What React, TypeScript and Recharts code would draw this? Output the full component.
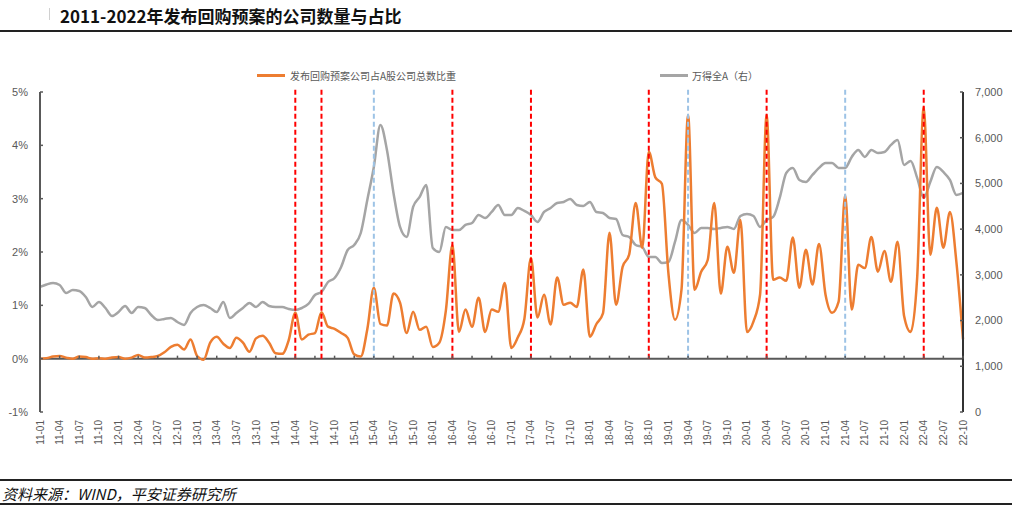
import React from 'react';
import { LineChart, Line, XAxis, YAxis, ReferenceLine } from 'recharts';

const years = ['11', '12', '13', '14', '15', '16', '17', '18', '19', '20', '21', '22'];
const monthNames = ['01', '02', '03', '04', '05', '06', '07', '08', '09', '10', '11', '12'];
const months: string[] = [];
years.forEach(y => monthNames.forEach(m => months.push(`${y}-${m}`)));
const categories = months.slice(0, 142);

// 发布回购预案公司占A股公司总数比重 (%)
const buybackRatio = [
  0.00, 0.01, 0.04, 0.05, 0.02, 0.00, 0.04, 0.03, 0.00, 0.01, 0.00, 0.02,
  0.03, 0.00, 0.02, 0.07, 0.02, 0.03, 0.05, 0.12, 0.22, 0.26, 0.17, 0.36,
  0.05, -0.02, 0.30, 0.41, 0.28, 0.20, 0.39, 0.30, 0.13, 0.38, 0.43, 0.30,
  0.10, 0.09, 0.35, 0.86, 0.36, 0.45, 0.48, 0.87, 0.60, 0.56, 0.48, 0.39,
  0.08, 0.04, 0.55, 1.33, 0.65, 0.62, 1.22, 1.05, 0.48, 0.88, 0.54, 0.60,
  0.22, 0.30, 0.90, 2.13, 0.50, 0.92, 0.60, 1.14, 0.50, 0.92, 0.88, 1.42,
  0.20, 0.40, 0.75, 1.89, 0.77, 1.20, 0.64, 1.52, 1.01, 1.05, 0.97, 1.67,
  0.41, 0.65, 0.85, 2.36, 1.01, 1.72, 1.95, 2.92, 2.08, 3.88, 3.40, 3.28,
  1.60, 0.73, 1.30, 4.57, 1.29, 1.63, 1.85, 2.92, 1.22, 2.10, 1.61, 2.60,
  0.50, 0.70, 1.20, 4.57, 1.48, 1.52, 1.46, 2.27, 1.33, 2.04, 1.39, 2.15,
  1.20, 0.86, 1.07, 3.07, 0.92, 1.76, 1.70, 2.28, 1.63, 2.02, 1.44, 2.19,
  0.80, 0.50, 1.52, 4.72, 1.95, 2.83, 2.08, 2.75, 1.80, 0.36,
];

// 万得全A（右）
const windA = [
  2735, 2790, 2823, 2779, 2604, 2670, 2648, 2516, 2297, 2407, 2275, 2100,
  2188, 2319, 2166, 2297, 2275, 2122, 2013, 2035, 2057, 1969, 1904, 2166,
  2297, 2341, 2275, 2188, 2407, 2057, 2166, 2275, 2385, 2297, 2407, 2319,
  2297, 2297, 2254, 2232, 2275, 2363, 2560, 2626, 2844, 2932, 3173, 3545,
  3654, 3916, 4638, 5361, 6280, 5733, 4792, 4048, 3829, 4485, 4704, 4967,
  3588, 3501, 4048, 3982, 3982, 4092, 4135, 4310, 4245, 4376, 4529, 4310,
  4310, 4463, 4398, 4310, 4157, 4376, 4463, 4573, 4595, 4660, 4529, 4507,
  4595, 4376, 4354, 4245, 4223, 3873, 3829, 3654, 3610, 3391, 3391, 3260,
  3282, 3720, 4201, 4092, 3916, 4026, 4026, 4004, 4026, 4048, 4004, 4288,
  4332, 4288, 4048, 4201, 4267, 4682, 5229, 5339, 5076, 5032, 5186, 5339,
  5448, 5448, 5339, 5339, 5579, 5733, 5579, 5733, 5667, 5689, 5842, 5951,
  5404, 5492, 5120, 4682, 5032, 5361, 5251, 5076, 4748, 4792,
];

const leftTicks = [-1, 0, 1, 2, 3, 4, 5];
const rightTicks = [0, 1000, 2000, 3000, 4000, 5000, 6000, 7000];
const redMarks = ['14-04', '14-08', '16-04', '17-04', '18-10', '20-04', '22-04'];
const blueMarks = ['15-04', '19-04', '21-04'];

const data = categories.map((month, i) => ({
  month,
  ratio: buybackRatio[i],
  windA: windA[i],
}));

const PLOT_TOP = 92;
const PLOT_BOTTOM = 412;
const ZERO_Y = PLOT_BOTTOM - (PLOT_BOTTOM - PLOT_TOP) / 6;
const labelColor = '#595959';
const axisColor = '#595959';
const font = '"Liberation Sans", Arial, sans-serif';

const MonthTick = (props: any) => {
  const { x, y, payload } = props;
  return (
    <g>
      <line x1={x} x2={x} y1={ZERO_Y - 3} y2={ZERO_Y} stroke={axisColor} strokeWidth={1.5} />
      <text
        transform={`translate(${x},${y}) rotate(-90)`}
        textAnchor="end"
        dy="0.35em"
        fontSize={10}
        fill={labelColor}
        fontFamily={font}
      >
        {payload.value}
      </text>
    </g>
  );
};

const LeftTick = (props: any) => {
  const { x, y, payload } = props;
  return (
    <g>
      <line x1={x + 12} x2={x + 15} y1={y} y2={y} stroke={axisColor} strokeWidth={1.5} />
      <text x={x} y={y} dy="0.35em" textAnchor="end" fontSize={11} fill={labelColor} fontFamily={font}>
        {payload.value}%
      </text>
    </g>
  );
};

const RightTick = (props: any) => {
  const { x, y, payload } = props;
  return (
    <g>
      <line x1={x - 15} x2={x - 12} y1={y} y2={y} stroke={axisColor} strokeWidth={1.5} />
      <text x={x} y={y} dy="0.35em" textAnchor="start" fontSize={11} fill={labelColor} fontFamily={font}>
        {Number(payload.value).toLocaleString('en-US')}
      </text>
    </g>
  );
};

const cjk = '"Noto Sans CJK SC", "Liberation Sans", sans-serif';

export default function App() {
  return (
    <div style={{ position: 'absolute', left: 0, top: 0, width: 1012, height: 506, background: '#fff', overflow: 'hidden' }}>
      <div style={{ position: 'absolute', left: 49, top: 8, width: 1, height: 12, background: '#d0d0d0' }} />
      <div style={{ position: 'absolute', left: 60, top: 3, fontFamily: cjk, fontWeight: 700, fontSize: 17, color: '#111', whiteSpace: 'nowrap' }}>
        2011-2022年发布回购预案的公司数量与占比
      </div>
      <div style={{ position: 'absolute', left: 0, top: 30, width: 1012, height: 2, background: '#222' }} />

      <div style={{ position: 'absolute', left: 257, top: 68, display: 'flex', alignItems: 'center', fontFamily: cjk, fontSize: 10, color: labelColor, whiteSpace: 'nowrap' }}>
        <span style={{ display: 'inline-block', width: 28, height: 2.5, background: '#ED7D31', marginRight: 5 }} />
        发布回购预案公司占A股公司总数比重
      </div>
      <div style={{ position: 'absolute', left: 660, top: 68, display: 'flex', alignItems: 'center', fontFamily: cjk, fontSize: 10, color: labelColor, whiteSpace: 'nowrap' }}>
        <span style={{ display: 'inline-block', width: 28, height: 2.5, background: '#A5A5A5', marginRight: 4 }} />
        万得全A（右）
      </div>

      <div style={{ position: 'absolute', left: 0, top: 0 }}>
        <LineChart width={1012} height={480} data={data} margin={{ top: PLOT_TOP, right: 0, bottom: 18, left: 0 }}>
          <XAxis
            dataKey="month"
            interval={2}
            height={50}
            tickSize={0}
            tickMargin={8}
            tickLine={false}
            axisLine={false}
            tick={<MonthTick />}
          />
          <YAxis
            yAxisId="left"
            width={40}
            domain={[-1, 5]}
            ticks={leftTicks}
            tickSize={0}
            tickMargin={12}
            tickLine={false}
            axisLine={{ stroke: axisColor, strokeWidth: 2 }}
            tick={<LeftTick />}
          />
          <YAxis
            yAxisId="right"
            orientation="right"
            width={49}
            domain={[0, 7000]}
            ticks={rightTicks}
            tickSize={0}
            tickMargin={12}
            tickLine={false}
            axisLine={{ stroke: '#333', strokeWidth: 2 }}
            tick={<RightTick />}
          />
          <ReferenceLine yAxisId="left" y={0} stroke={axisColor} strokeWidth={2} />
          <Line
            yAxisId="right"
            type="monotone"
            dataKey="windA"
            stroke="#A5A5A5"
            strokeWidth={2.5}
            dot={false}
            isAnimationActive={false}
          />
          <Line
            yAxisId="left"
            type="monotone"
            dataKey="ratio"
            stroke="#ED7D31"
            strokeWidth={2.5}
            dot={false}
            isAnimationActive={false}
          />
          {redMarks.map(m => (
            <ReferenceLine
              key={m}
              yAxisId="left"
              segment={[{ x: m, y: 0 }, { x: m, y: 5.07 }]}
              stroke="#FF0000"
              strokeWidth={2}
              strokeDasharray="5 3"
              ifOverflow="visible"
            />
          ))}
          {blueMarks.map(m => (
            <ReferenceLine
              key={m}
              yAxisId="left"
              segment={[{ x: m, y: 0 }, { x: m, y: 5.07 }]}
              stroke="#9DC3E6"
              strokeWidth={2}
              strokeDasharray="5 3"
              ifOverflow="visible"
            />
          ))}
        </LineChart>
      </div>

      <div style={{ position: 'absolute', left: 0, top: 479, width: 1012, height: 1.5, background: '#222' }} />
      <div style={{ position: 'absolute', left: 2, top: 483, fontFamily: cjk, fontStyle: 'italic', fontSize: 15, color: '#111', whiteSpace: 'nowrap' }}>
        资料来源：WIND，平安证券研究所
      </div>
      <div style={{ position: 'absolute', left: 0, top: 503, width: 1012, height: 1.5, background: '#222' }} />
    </div>
  );
}
